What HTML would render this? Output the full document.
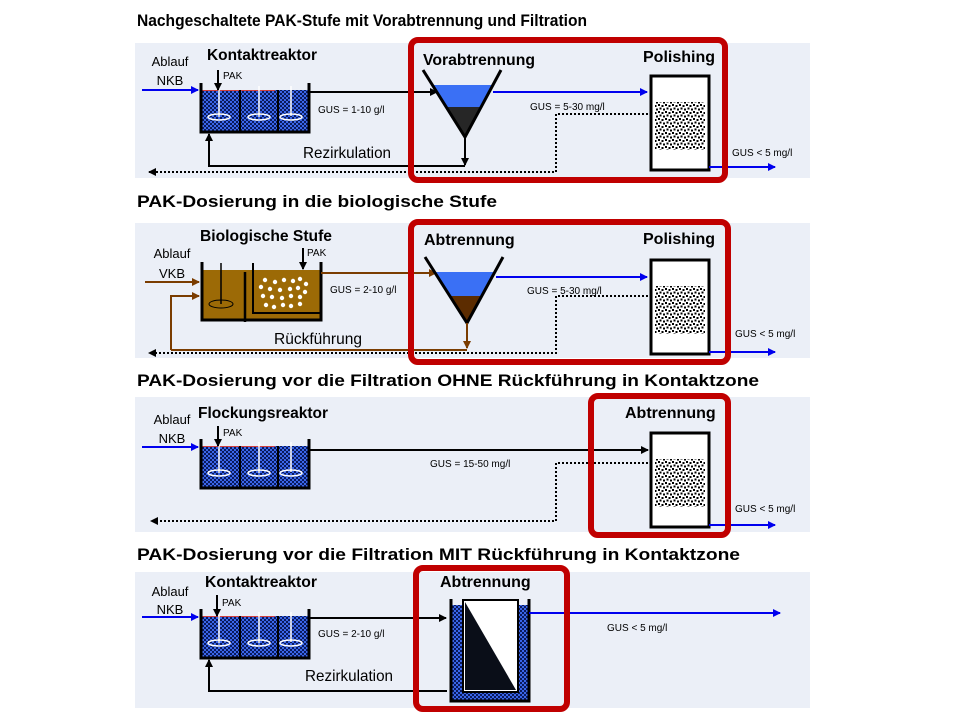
<!DOCTYPE html>
<html><head><meta charset="utf-8"><style>
html,body{margin:0;padding:0;background:#fff;}
svg{display:block;}
text{font-family:"Liberation Sans",sans-serif;}
.t{font-weight:bold;font-size:17px;}
.h{font-weight:bold;font-size:16px;}
.s{font-size:10px;}
.m{font-size:13px;}
</style></head><body>
<svg width="960" height="720" viewBox="0 0 960 720" xmlns="http://www.w3.org/2000/svg">
<defs>
<pattern id="chk" width="4" height="4" patternUnits="userSpaceOnUse">
<rect width="4" height="4" fill="#0a1a5c"/><rect width="2" height="2" fill="#3a66e8"/><rect x="2" y="2" width="2" height="2" fill="#3a66e8"/>
</pattern>
<pattern id="dots" width="7" height="7" patternUnits="userSpaceOnUse">
<rect width="7" height="7" fill="#fff"/><rect x="0" y="0" width="2" height="2" fill="#000"/><rect x="3.5" y="1" width="2" height="2" fill="#000"/><rect x="1.5" y="3.5" width="2" height="2" fill="#000"/><rect x="5" y="4.5" width="2" height="2" fill="#000"/>
</pattern>
<marker id="ak" markerWidth="8" markerHeight="8" refX="7" refY="4" orient="auto" markerUnits="userSpaceOnUse"><path d="M0,0 L8,4 L0,8z" fill="#000"/></marker>
<marker id="ab" markerWidth="8" markerHeight="8" refX="7" refY="4" orient="auto" markerUnits="userSpaceOnUse"><path d="M0,0 L8,4 L0,8z" fill="#0000ee"/></marker>
<marker id="abr" markerWidth="8" markerHeight="8" refX="7" refY="4" orient="auto" markerUnits="userSpaceOnUse"><path d="M0,0 L8,4 L0,8z" fill="#7a3c00"/></marker>
<g id="tank">
<rect x="1" y="7" width="108" height="42" fill="url(#chk)"/>
<line x1="2" y1="7.5" x2="75" y2="7.5" stroke="#d04040" stroke-width="1"/>
<line x1="40" y1="7" x2="40" y2="49" stroke="#000" stroke-width="2"/>
<line x1="78" y1="7" x2="78" y2="49" stroke="#000" stroke-width="2"/>
<g stroke="#fff" stroke-width="1.5" fill="none">
<line x1="19" y1="3" x2="19" y2="34"/><ellipse cx="19" cy="34" rx="11" ry="3"/>
<line x1="59" y1="3" x2="59" y2="34"/><ellipse cx="59" cy="34" rx="11" ry="3"/>
<line x1="91" y1="3" x2="91" y2="33"/><ellipse cx="91" cy="34" rx="11" ry="3"/>
</g>
<path d="M1,0 V49 H109 V0" fill="none" stroke="#000" stroke-width="3"/>
</g>
<g id="filt">
<rect x="0" y="0" width="58" height="94" fill="#fff" stroke="#000" stroke-width="3"/>
<rect x="4" y="26" width="50" height="48" fill="url(#dots)"/>
</g>
</defs>

<!-- Panel 1 -->
<text x="137" y="26" class="t" textLength="450" lengthAdjust="spacingAndGlyphs">Nachgeschaltete  PAK-Stufe  mit Vorabtrennung  und Filtration</text>
<rect x="135" y="43" width="675" height="135" fill="#ebeff7"/>
<text x="170" y="66" class="m" text-anchor="middle">Ablauf</text>
<text x="170" y="85" class="m" text-anchor="middle">NKB</text>
<line x1="142" y1="90" x2="198" y2="90" stroke="#0000ee" stroke-width="2" marker-end="url(#ab)"/>
<text x="207" y="60" class="h" textLength="110" lengthAdjust="spacingAndGlyphs">Kontaktreaktor</text>
<use href="#tank" x="200" y="83"/>
<line x1="218" y1="70" x2="218" y2="90" stroke="#000" stroke-width="2" marker-end="url(#ak)"/>
<text x="223" y="79" class="s">PAK</text>
<line x1="310" y1="92" x2="437" y2="92" stroke="#000" stroke-width="2" marker-end="url(#ak)"/>
<text x="318" y="113" class="s">GUS = 1-10 g/l</text>
<polygon points="432,85 493,85 481,107 446,107" fill="#3a70f5"/>
<polygon points="446,107 481,107 465,137" fill="#262626"/>
<path d="M423,70 L465,137 L501,70" fill="none" stroke="#000" stroke-width="3"/>
<line x1="493" y1="92" x2="647" y2="92" stroke="#0000ee" stroke-width="2" marker-end="url(#ab)"/>
<text x="530" y="110" class="s">GUS = 5-30 mg/l</text>
<line x1="465" y1="137" x2="465" y2="165" stroke="#000" stroke-width="2" marker-end="url(#ak)"/>
<path d="M465,166 H209 V134" fill="none" stroke="#000" stroke-width="2" marker-end="url(#ak)"/>
<text x="303" y="158" font-size="16" textLength="88" lengthAdjust="spacingAndGlyphs">Rezirkulation</text>
<path d="M648,114 H556 V172 H149" fill="none" stroke="#000" stroke-width="2" stroke-dasharray="2,2" marker-end="url(#ak)"/>
<use href="#filt" x="651" y="76"/>
<line x1="709" y1="167" x2="775" y2="167" stroke="#0000ee" stroke-width="2" marker-end="url(#ab)"/>
<text x="732" y="156" class="s">GUS &lt; 5 mg/l</text>
<text x="643" y="62" class="h">Polishing</text>
<text x="423" y="65" class="h" textLength="112" lengthAdjust="spacingAndGlyphs">Vorabtrennung</text>
<rect x="411" y="40" width="314" height="140" rx="7" fill="none" stroke="#c00000" stroke-width="6"/>

<!-- Panel 2 -->
<text x="137" y="207" class="t" textLength="360" lengthAdjust="spacingAndGlyphs">PAK-Dosierung  in die biologische  Stufe</text>
<rect x="135" y="223" width="675" height="135" fill="#ebeff7"/>
<text x="172" y="258" class="m" text-anchor="middle">Ablauf</text>
<text x="172" y="278" class="m" text-anchor="middle">VKB</text>
<line x1="145" y1="282" x2="199" y2="282" stroke="#7a3c00" stroke-width="2" marker-end="url(#abr)"/>
<path d="M171,350 V296 H199" fill="none" stroke="#7a3c00" stroke-width="2" marker-end="url(#abr)"/>
<text x="200" y="241" class="h" textLength="132" lengthAdjust="spacingAndGlyphs">Biologische Stufe</text>
<rect x="202" y="270" width="118" height="50" fill="#9c6a06"/>
<line x1="245" y1="272" x2="245" y2="322" stroke="#000" stroke-width="2.5"/>
<path d="M253,263 V313 H320" fill="none" stroke="#000" stroke-width="2"/>
<g fill="#fff">
<circle cx="265" cy="280" r="2.2"/><circle cx="275" cy="282" r="2.2"/><circle cx="284" cy="280" r="2.2"/><circle cx="293" cy="281" r="2.2"/><circle cx="300" cy="279" r="2.2"/><circle cx="306" cy="284" r="2.2"/>
<circle cx="261" cy="287" r="2.2"/><circle cx="270" cy="289" r="2.2"/><circle cx="280" cy="290" r="2.2"/><circle cx="290" cy="289" r="2.2"/><circle cx="298" cy="288" r="2.2"/><circle cx="305" cy="292" r="2.2"/>
<circle cx="263" cy="296" r="2.2"/><circle cx="272" cy="297" r="2.2"/><circle cx="282" cy="298" r="2.2"/><circle cx="291" cy="296" r="2.2"/><circle cx="300" cy="297" r="2.2"/>
<circle cx="266" cy="305" r="2.2"/><circle cx="274" cy="307" r="2.2"/><circle cx="283" cy="305" r="2.2"/><circle cx="291" cy="306" r="2.2"/><circle cx="300" cy="304" r="2.2"/>
</g>
<line x1="221" y1="263" x2="221" y2="304" stroke="#000" stroke-width="1.5"/>
<ellipse cx="221" cy="304" rx="12" ry="4" fill="none" stroke="#000" stroke-width="1"/>
<path d="M202,262 V320 H321 V262" fill="none" stroke="#000" stroke-width="3"/>
<line x1="303" y1="248" x2="303" y2="269" stroke="#000" stroke-width="2" marker-end="url(#ak)"/>
<text x="307" y="256" class="s">PAK</text>
<line x1="321" y1="273" x2="436" y2="273" stroke="#7a3c00" stroke-width="2" marker-end="url(#abr)"/>
<text x="330" y="293" class="s">GUS = 2-10 g/l</text>
<polygon points="434,272 495,272 482,296 450,296" fill="#3a70f5"/>
<polygon points="450,296 482,296 467,323" fill="#5c2c00"/>
<path d="M425,257 L467,323 L503,257" fill="none" stroke="#000" stroke-width="3"/>
<line x1="496" y1="277" x2="647" y2="277" stroke="#0000ee" stroke-width="2" marker-end="url(#ab)"/>
<text x="527" y="294" class="s">GUS = 5-30 mg/l</text>
<line x1="467" y1="323" x2="467" y2="348" stroke="#7a3c00" stroke-width="2" marker-end="url(#abr)"/>
<line x1="467" y1="350" x2="171" y2="350" stroke="#7a3c00" stroke-width="2"/>
<text x="274" y="344" font-size="16" textLength="88" lengthAdjust="spacingAndGlyphs">Rückführung</text>
<path d="M648,296 H556 V353 H149" fill="none" stroke="#000" stroke-width="2" stroke-dasharray="2,2" marker-end="url(#ak)"/>
<use href="#filt" x="651" y="260"/>
<line x1="709" y1="352" x2="775" y2="352" stroke="#0000ee" stroke-width="2" marker-end="url(#ab)"/>
<text x="735" y="337" class="s">GUS &lt; 5 mg/l</text>
<text x="643" y="244" class="h">Polishing</text>
<text x="424" y="245" class="h">Abtrennung</text>
<rect x="411" y="222" width="317" height="140" rx="7" fill="none" stroke="#c00000" stroke-width="6"/>

<!-- Panel 3 -->
<text x="137" y="386" class="t" textLength="622" lengthAdjust="spacingAndGlyphs">PAK-Dosierung  vor die Filtration  OHNE Rückführung  in Kontaktzone</text>
<rect x="135" y="397" width="675" height="135" fill="#ebeff7"/>
<text x="172" y="424" class="m" text-anchor="middle">Ablauf</text>
<text x="172" y="443" class="m" text-anchor="middle">NKB</text>
<line x1="142" y1="447" x2="198" y2="447" stroke="#0000ee" stroke-width="2" marker-end="url(#ab)"/>
<text x="198" y="418" class="h" textLength="130" lengthAdjust="spacingAndGlyphs">Flockungsreaktor</text>
<use href="#tank" x="200" y="439"/>
<line x1="218" y1="426" x2="218" y2="446" stroke="#000" stroke-width="2" marker-end="url(#ak)"/>
<text x="223" y="436" class="s">PAK</text>
<line x1="310" y1="450" x2="648" y2="450" stroke="#000" stroke-width="2" marker-end="url(#ak)"/>
<text x="430" y="467" class="s">GUS = 15-50 mg/l</text>
<path d="M648,463 H556 V521 H151" fill="none" stroke="#000" stroke-width="2" stroke-dasharray="2,2" marker-end="url(#ak)"/>
<use href="#filt" x="651" y="433"/>
<line x1="709" y1="525" x2="775" y2="525" stroke="#0000ee" stroke-width="2" marker-end="url(#ab)"/>
<text x="735" y="512" class="s">GUS &lt; 5 mg/l</text>
<text x="625" y="418" class="h">Abtrennung</text>
<rect x="591" y="396" width="137" height="139" rx="7" fill="none" stroke="#c00000" stroke-width="6"/>

<!-- Panel 4 -->
<text x="137" y="560" class="t" textLength="603" lengthAdjust="spacingAndGlyphs">PAK-Dosierung  vor die Filtration  MIT Rückführung  in Kontaktzone</text>
<rect x="135" y="572" width="675" height="136" fill="#ebeff7"/>
<text x="170" y="596" class="m" text-anchor="middle">Ablauf</text>
<text x="170" y="614" class="m" text-anchor="middle">NKB</text>
<line x1="142" y1="617" x2="198" y2="617" stroke="#0000ee" stroke-width="2" marker-end="url(#ab)"/>
<text x="205" y="587" class="h" textLength="112" lengthAdjust="spacingAndGlyphs">Kontaktreaktor</text>
<use href="#tank" x="200" y="609"/>
<line x1="217" y1="595" x2="217" y2="616" stroke="#000" stroke-width="2" marker-end="url(#ak)"/>
<text x="222" y="606" class="s">PAK</text>
<line x1="310" y1="618" x2="446" y2="618" stroke="#000" stroke-width="2" marker-end="url(#ak)"/>
<text x="318" y="637" class="s">GUS = 2-10 g/l</text>
<path d="M447,691 H209 V660" fill="none" stroke="#000" stroke-width="2" marker-end="url(#ak)"/>
<text x="305" y="681" font-size="16" textLength="88" lengthAdjust="spacingAndGlyphs">Rezirkulation</text>
<rect x="451" y="605" width="78" height="96" fill="url(#chk)"/>
<rect x="463" y="600" width="55" height="92" fill="#fff" stroke="#000" stroke-width="2"/>
<polygon points="465,602 516,690 465,690" fill="#0a0e18"/>
<path d="M451,599 V701 H529 V599" fill="none" stroke="#000" stroke-width="3"/>
<line x1="529" y1="613" x2="780" y2="613" stroke="#0000ee" stroke-width="2" marker-end="url(#ab)"/>
<text x="607" y="631" class="s">GUS &lt; 5 mg/l</text>
<text x="440" y="587" class="h">Abtrennung</text>
<rect x="416" y="568" width="151" height="141" rx="7" fill="none" stroke="#c00000" stroke-width="6"/>
</svg>
</body></html>
